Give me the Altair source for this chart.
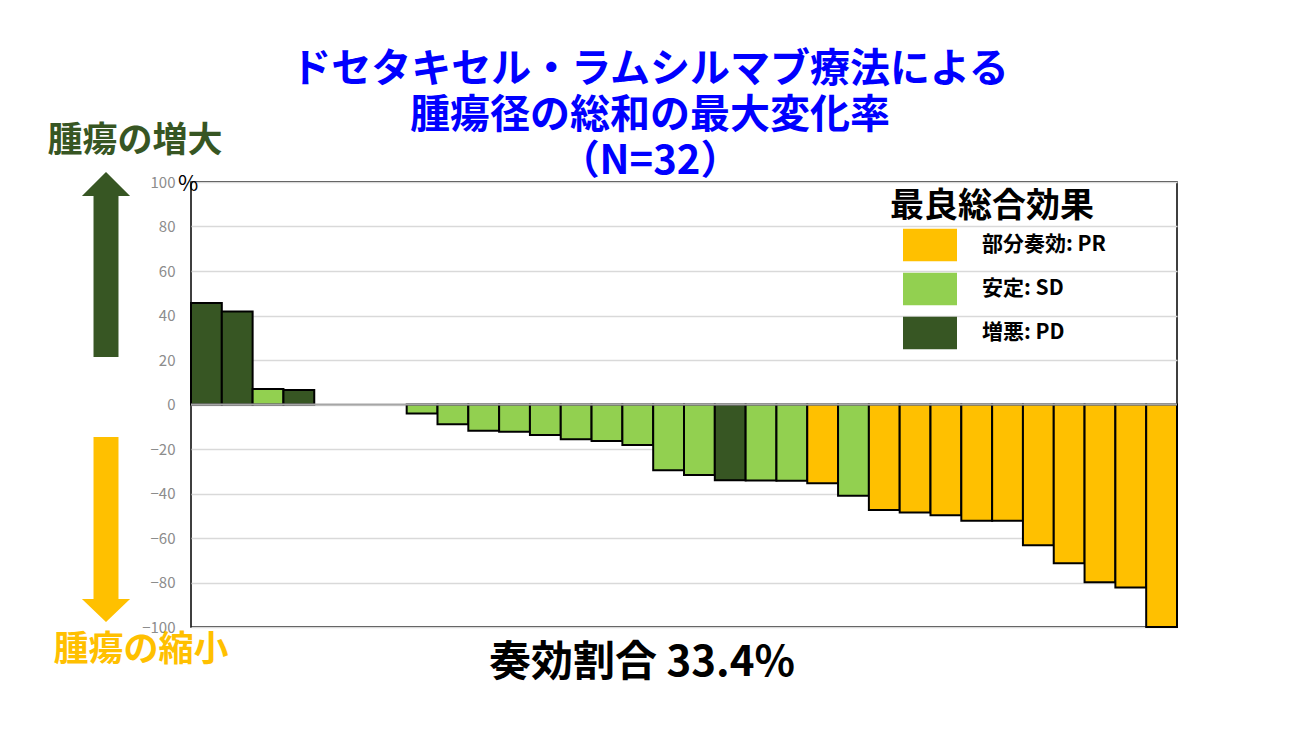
import altair as alt
import pandas as pd

# ---- data ----
patients = list(range(1, 33))
changes = [45.6, 41.8, 7.0, 6.5, 0, 0, 0,
           -4.0, -8.9, -11.8, -12.2, -13.7, -15.6, -16.4, -18.2, -29.6, -31.7,
           -34.1, -34.2, -34.3, -35.4, -41.0,
           -47.4, -48.5, -49.8, -52.2, -52.2, -63.3, -71.4, -79.9, -82.2, -100.0]
responses = ["PD", "PD", "SD", "PD", "", "", "",
             "SD", "SD", "SD", "SD", "SD", "SD", "SD", "SD", "SD", "SD",
             "PD", "SD", "SD", "PR", "SD",
             "PR", "PR", "PR", "PR", "PR", "PR", "PR", "PR", "PR", "PR"]
resp_labels = {"PR": "部分奏効: PR", "SD": "安定: SD", "PD": "増悪: PD", "": ""}
legend_order = ["部分奏効: PR", "安定: SD", "増悪: PD"]
legend_colors = ["#FFC000", "#92D050", "#375623"]
y_ticks = [-100, -80, -60, -40, -20, 0, 20, 40, 60, 80, 100]

title_text = "ドセタキセル・ラムシルマブ療法による\n腫瘍径の総和の最大変化率\n（N=32）"
legend_title = "最良総合効果"
up_label = "腫瘍の増大"
down_label = "腫瘍の縮小"
bottom_text = "奏効割合 33.4%"
unit_text = "%"

FONT = "Noto Sans CJK JP"

df = pd.DataFrame({
    "patient": patients,
    "change": changes,
    "response": [resp_labels[r] for r in responses],
})

W, H = 986, 445

bars = alt.Chart(df).transform_filter("datum.change != 0").mark_bar(
    stroke="black", strokeWidth=2
).encode(
    x=alt.X("patient:O", scale=alt.Scale(domain=patients, paddingInner=0, paddingOuter=0), axis=None),
    y=alt.Y("change:Q", scale=alt.Scale(domain=[-100, 100], nice=False),
            axis=alt.Axis(values=y_ticks, grid=True, gridColor="#d9d9d9", gridWidth=1.5,
                          domain=False, ticks=False, labelColor="#8c8c8c", labelFontSize=15,
                          labelFont=FONT, labelPadding=16, title=None)),
    color=alt.Color("response:N", scale=alt.Scale(domain=legend_order, range=legend_colors),
                    legend=alt.Legend(orient="none", legendX=712, legendY=36, title=None,
                                      symbolType="M-1,-0.6H1V0.6H-1Z", symbolSize=2916,
                                      symbolStrokeWidth=0, symbolOpacity=1,
                                      labelFontSize=21, labelFontWeight="bold", labelFont=FONT,
                                      labelColor="black", labelOffset=25, rowPadding=-1,
                                      padding=0)),
)

zero = alt.Chart(pd.DataFrame({"z": [0]})).mark_rule(color="#a6a6a6", strokeWidth=2).encode(
    y=alt.Y("z:Q")
)

one = pd.DataFrame({"t": [""]})

def text_layer(txt, x, y, size, color, weight="bold", align="center", lh=None):
    kw = dict(fontSize=size, color=color, fontWeight=weight, font=FONT, align=align,
              baseline="middle")
    if lh is not None:
        kw["lineBreak"] = "\n"
        kw["lineHeight"] = lh
    return alt.Chart(pd.DataFrame({"t": [txt]})).mark_text(**kw).encode(
        text="t:N", x=alt.value(x), y=alt.value(y))

title = text_layer(title_text, 459, -112, 40, "#0000FF", lh=46)
up = text_layer(up_label, -56, -41, 35, "#375623")
down = text_layer(down_label, -50, 468, 35, "#FFC000")
bottom = text_layer(bottom_text, 451, 481, 42, "black")
leg_title = text_layer(legend_title, 801, 25, 34, "black")
unit = text_layer(unit_text, -3, 2, 22, "black", weight="normal")

up_arrow_path = "M0,-1L0.26,-0.74L0.135,-0.74L0.135,1L-0.135,1L-0.135,-0.74L-0.26,-0.74Z"
down_arrow_path = "M0,1L0.26,0.75L0.135,0.75L0.135,-1L-0.135,-1L-0.135,0.75L-0.26,0.75Z"

up_arrow = alt.Chart(one).mark_point(shape=up_arrow_path, size=185 * 185, filled=True,
                                     opacity=1, color="#375623", strokeWidth=0).encode(
    x=alt.value(-85), y=alt.value(82.5))
down_arrow = alt.Chart(one).mark_point(shape=down_arrow_path, size=185 * 185, filled=True,
                                       opacity=1, color="#FFC000", strokeWidth=0).encode(
    x=alt.value(-85), y=alt.value(347.5))

chart = alt.layer(bars, zero, title, up, down, bottom, leg_title, unit, up_arrow, down_arrow).properties(
    width=W, height=H,
    autosize=alt.AutoSizeParams(type="none"),
    padding={"left": 191, "top": 182, "right": 138, "bottom": 113},
    background="white",
).configure_view(stroke="black", strokeWidth=1.5)

chart.save("out.html", embed_options={"renderer": "svg", "actions": False})
